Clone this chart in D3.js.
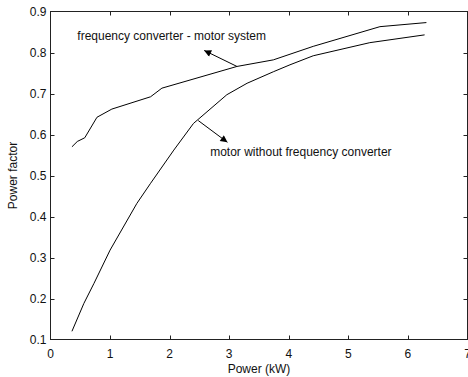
<!DOCTYPE html>
<html>
<head>
<meta charset="utf-8">
<script src="https://cdn.jsdelivr.net/npm/d3@7"></script>
<style>
  body { margin: 0; background: #fff; }
  text { font-family: "Liberation Sans", Arial, sans-serif; fill: #111; }
</style>
</head>
<body>
<div id="chart"></div>
<script>
// values
const convPower = [0.36, 0.45, 0.575, 0.78, 1.03, 1.68, 1.87, 3.13, 3.74, 4.41, 5.53, 6.31]
const convPF    = [0.570, 0.583, 0.592, 0.642, 0.662, 0.692, 0.713, 0.766, 0.782, 0.815, 0.863, 0.873]

const motorPower = [0.36, 0.56, 0.73, 1.0, 1.45, 1.68, 2.07, 2.40, 2.96, 3.30, 3.74, 4.02, 4.41, 5.36, 6.28]
const motorPF    = [0.120, 0.188, 0.237, 0.318, 0.432, 0.481, 0.562, 0.627, 0.697, 0.725, 0.753, 0.770, 0.792, 0.824, 0.843]

const xTicks = [0, 1, 2, 3, 4, 5, 6, 7]
const yTicks = [0.1, 0.2, 0.3, 0.4, 0.5, 0.6, 0.7, 0.8, 0.9]

const labels = [
  {text: "frequency converter - motor system", x: 0.45, y: 0.841, from: [3.13, 0.766], to: [2.58, 0.805]},
  {text: "motor without frequency converter", x: 2.68, y: 0.558, from: [2.48, 0.634], to: [2.97, 0.581]}
]

const width = 468, height = 377
const margin = {top: 11.5, right: 0.5, bottom: 37.5, left: 50.5}
const fontSize = 12

const svg = d3.select("#chart").append("svg")
  .attr("width", width)
  .attr("height", height)

const x = d3.scaleLinear().domain([0, 7]).range([margin.left, width - margin.right])
const y = d3.scaleLinear().domain([0.1, 0.9]).range([height - margin.bottom, margin.top])

svg.append("defs").append("marker")
  .attr("id", "head")
  .attr("viewBox", "0 0 10 10")
  .attr("refX", 10).attr("refY", 5)
  .attr("markerWidth", 9).attr("markerHeight", 7)
  .attr("markerUnits", "userSpaceOnUse")
  .attr("orient", "auto")
  .append("path").attr("d", "M0,0L10,5L0,10Z").attr("fill", "#000")

// frame
svg.append("rect")
  .attr("x", x(0)).attr("y", y(0.9))
  .attr("width", x(7) - x(0)).attr("height", y(0.1) - y(0.9))
  .attr("fill", "none").attr("stroke", "#222")

// inward ticks on all four sides
const tickLen = 4
const axisG = svg.append("g").attr("stroke", "#222")
xTicks.slice(1, -1).forEach(t => {
  axisG.append("line").attr("x1", Math.round(x(t)) + 0.5).attr("x2", Math.round(x(t)) + 0.5)
    .attr("y1", y(0.1)).attr("y2", y(0.1) - tickLen)
  axisG.append("line").attr("x1", Math.round(x(t)) + 0.5).attr("x2", Math.round(x(t)) + 0.5)
    .attr("y1", y(0.9)).attr("y2", y(0.9) + tickLen)
})
yTicks.slice(1, -1).forEach(t => {
  axisG.append("line").attr("y1", Math.round(y(t)) + 0.5).attr("y2", Math.round(y(t)) + 0.5)
    .attr("x1", x(0)).attr("x2", x(0) + tickLen)
  axisG.append("line").attr("y1", Math.round(y(t)) + 0.5).attr("y2", Math.round(y(t)) + 0.5)
    .attr("x1", x(7)).attr("x2", x(7) - tickLen)
})

svg.append("g").selectAll("text")
  .data(xTicks).enter().append("text")
  .attr("x", d => x(d)).attr("y", y(0.1) + 18)
  .attr("text-anchor", "middle").attr("font-size", fontSize)
  .text(d => d)

svg.append("g").selectAll("text")
  .data(yTicks).enter().append("text")
  .attr("x", x(0) - 4).attr("y", d => y(d) + 4)
  .attr("text-anchor", "end").attr("font-size", fontSize)
  .text(d => d3.format(".1f")(d))

svg.append("text")
  .attr("x", (x(0) + x(7)) / 2).attr("y", height - 4)
  .attr("text-anchor", "middle").attr("font-size", fontSize)
  .text("Power (kW)")

svg.append("text")
  .attr("transform", `translate(17,${(y(0.1) + y(0.9)) / 2}) rotate(-90)`)
  .attr("text-anchor", "middle").attr("font-size", fontSize)
  .text("Power factor")

const line = d3.line().x(d => x(d[0])).y(d => y(d[1]))

svg.append("path")
  .datum(d3.zip(convPower, convPF))
  .attr("d", line).attr("fill", "none").attr("stroke", "#000").attr("stroke-width", 1)

svg.append("path")
  .datum(d3.zip(motorPower, motorPF))
  .attr("d", line).attr("fill", "none").attr("stroke", "#000").attr("stroke-width", 1)

const ann = svg.append("g")
ann.selectAll("line").data(labels).enter().append("line")
  .attr("x1", d => x(d.from[0])).attr("y1", d => y(d.from[1]))
  .attr("x2", d => x(d.to[0])).attr("y2", d => y(d.to[1]))
  .attr("stroke", "#000").attr("marker-end", "url(#head)")
ann.selectAll("text").data(labels).enter().append("text")
  .attr("x", d => x(d.x)).attr("y", d => y(d.y) + 4.5)
  .attr("font-size", fontSize)
  .text(d => d.text)
</script>
</body>
</html>
